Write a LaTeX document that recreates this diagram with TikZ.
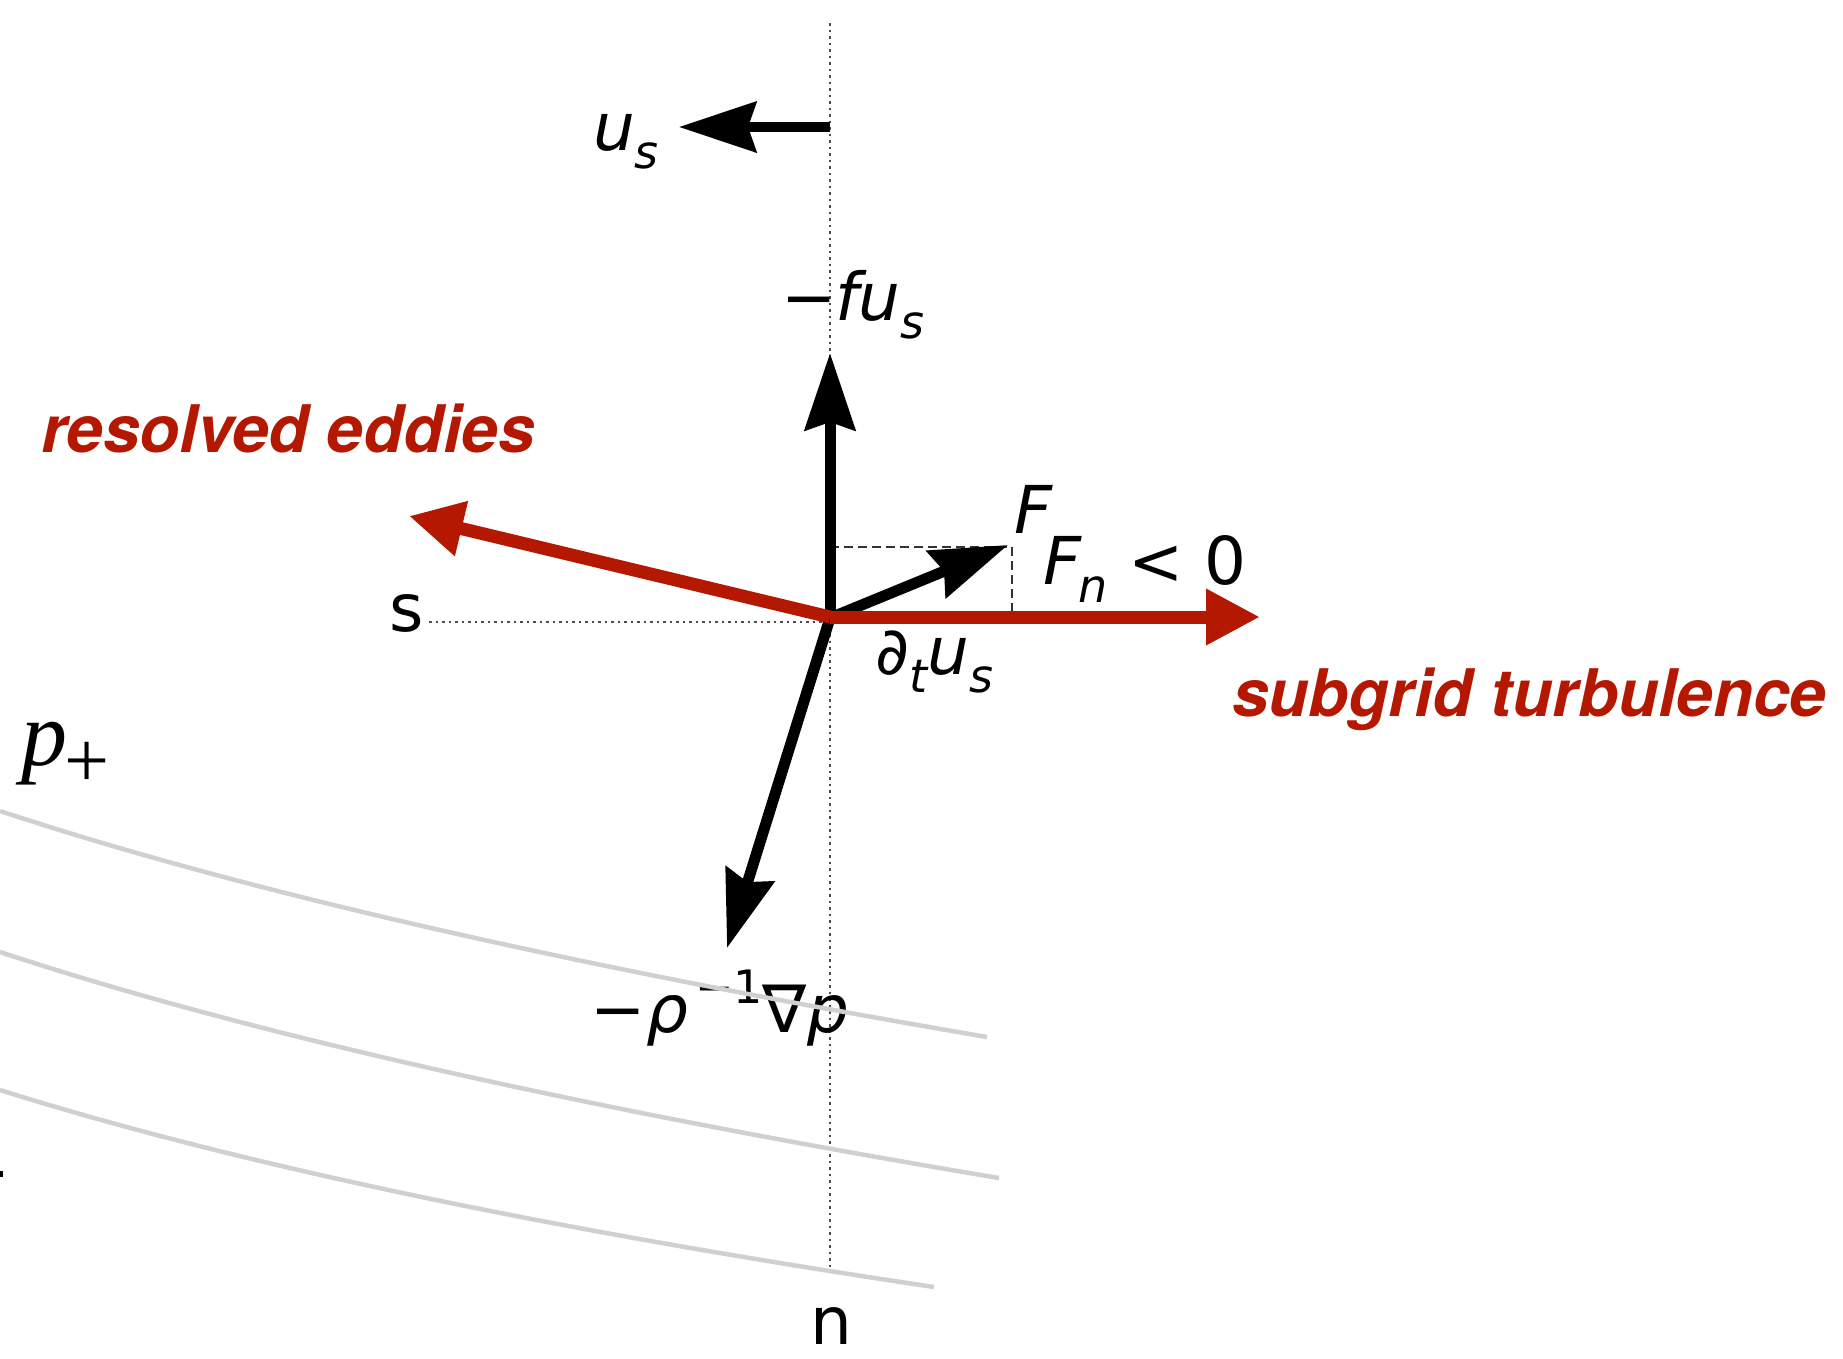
\documentclass[tikz,border=0pt]{standalone}
\usepackage{fontspec}
\usetikzlibrary{arrows.meta}
\newfontfamily\labfont{DejaVu Sans}
\newfontfamily\redfont{TeX Gyre Heros}
\newfontfamily\serfont{Liberation Serif}
\definecolor{myred}{RGB}{180,24,0}
\definecolor{isogray}{RGB}{208,208,208}
\newcommand\subx[1]{\raisebox{-0.28em}{\fontsize{46}{46}\selectfont #1}}
\newcommand\supx[1]{\raisebox{0.45em}{\fontsize{46}{46}\selectfont #1}}
\begin{document}
\begin{tikzpicture}[x=1pt,y=-1pt,
  blackarrow/.style={line width=11pt,-{Stealth[length=77pt,width=50pt,inset=8pt]}},
  redarrow/.style={draw=myred,line width=13pt,-{Triangle[length=54pt,width=53pt]}},
  axisline/.style={dash pattern=on 2.5pt off 4pt,line width=2pt,draw=black!70},
  compline/.style={dash pattern=on 9pt off 5pt,line width=2.5pt,draw=black!80},
  isobar/.style={line width=4.5pt,draw=isogray},
  lab/.style={font=\labfont\fontsize{66}{70}\selectfont,inner sep=0pt},
  redlab/.style={font=\redfont\bfseries\itshape\fontsize{65.6}{70}\selectfont,text=myred,inner sep=0pt},
]
\useasboundingbox (0,0) rectangle (1843,1358);
% coordinates
\coordinate (O) at (830,618);
\coordinate (Ored) at (830,617);
\coordinate (ntop) at (830,23);
\coordinate (nbot) at (830,1270);
\coordinate (sleft) at (429,622);
\coordinate (sright) at (1215,622);
\coordinate (usstart) at (830,127);
\coordinate (ustip) at (679,127);
\coordinate (futip) at (830,353);
\coordinate (Ftip) at (1008,545);
\coordinate (gradtip) at (727,948);
\coordinate (subtip) at (1260,617);
\coordinate (restip) at (409,516);
\coordinate (Fh) at (1012,547);
\coordinate (Fv) at (1012,615);
\coordinate (Fl) at (830,547);
\coordinate (mark) at (0,1171);
% axes
\draw[axisline] (ntop) -- (nbot);
\draw[axisline] (sleft) -- (sright);
% F components
\draw[compline] (Fl) -- (Fh);
\draw[compline] (Fh) -- (Fv);
% black arrows
\draw[blackarrow,line width=10pt] (usstart) -- (ustip);
\draw[blackarrow] (O) -- (futip);
\draw[blackarrow] (O) -- (Ftip);
\draw[blackarrow] (O) -- (gradtip);
% red arrows
\draw[redarrow] (Ored) -- (restip);
\draw[redarrow] (Ored) -- (subtip);
% labels
\node[lab] (lus) at (626,142) {\itshape u\subx{s}};
\node[lab] (lfus) at (853,305) {−\kern-2pt\itshape fu\subx{s}};
\node[lab] (lF) at (1033,509) {\itshape F};
\node[lab] (lFn) at (1145,569) {\itshape F\kern-3pt\subx{n}\upshape\ <\ 0};
\node[lab] (ldt) at (934,662) {∂\subx{\itshape t}\itshape u\subx{s}};
\node[lab] (lgrad) at (720,1008) {−\itshape ρ\,\upshape\kern-4pt\supx{−1}∇\itshape p};
\node[lab] (ls) at (407,613) {s};
\node[lab] (ln) at (831,1326) {n};
\node[inner sep=0pt,font=\serfont\fontsize{92}{96}\selectfont] (lp) at (66,755) {\itshape p\kern-3pt\raisebox{-0.24em}{\upshape\fontsize{80}{80}\selectfont +}};
\node[redlab,anchor=base west] (lres) at (41,452) {resolved eddies};
\node[redlab,anchor=base west] (lsub) at (1232,716) {subgrid turbulence};
% isobars
\draw[isobar] (0,811) .. controls (242.7,891) and (571.7,966.3) .. (987,1037);
\draw[isobar] (0,952) .. controls (242.7,1032) and (575.7,1107.3) .. (999,1178);
\draw[isobar] (0,1090) .. controls (233.3,1163.3) and (544.7,1229) .. (934,1287);
% cut-off mark at left edge
\fill[black] (mark) rectangle ++(3,6);
\end{tikzpicture}
\end{document}
